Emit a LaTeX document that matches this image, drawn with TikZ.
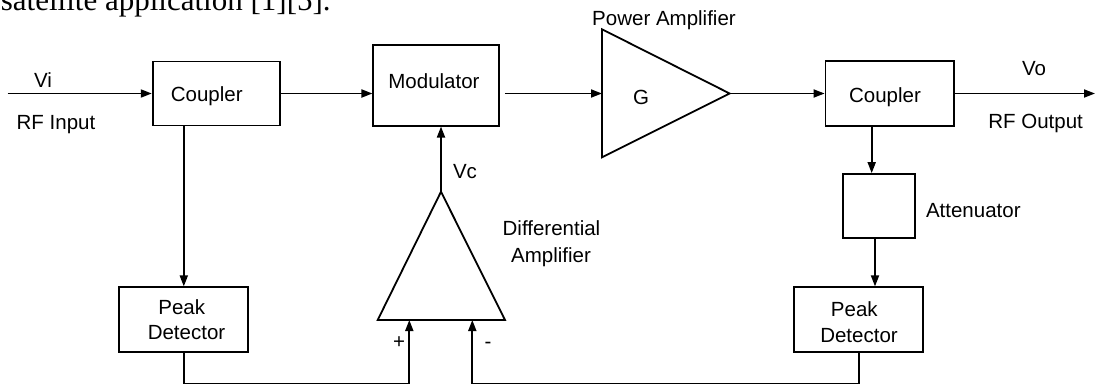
\documentclass[tikz,border=0pt]{standalone}
\usepackage{fontspec}
\setmainfont{Liberation Sans}
\newfontfamily\docserif{Liberation Serif}
\usetikzlibrary{arrows.meta}
\begin{document}
\begin{tikzpicture}[x=1pt,y=-1pt, line width=1.8pt,
  box/.style={draw, rectangle, inner sep=0pt},
  txt/.style={inner sep=0pt, text height=14.7pt, text depth=0pt, font=\fontsize{20.5}{24}\selectfont},
  arr/.style={-{Triangle[length=11pt,width=8pt]}}]
\useasboundingbox (0,0) rectangle (1096,386);
\begin{scope}
  \clip (0,0) rectangle (1096,386);
  \node[anchor=base west, inner sep=0pt, font=\docserif\fontsize{31}{36}\selectfont] (doc) at (0,10) {satellite application [1][5].};
\end{scope}
% input side
\coordinate (in) at (7.7,93.5);
\node[txt] (vi) at (43,80) {Vi};
\node[txt] (rfi) at (56,121.7) {RF Input};
\node[box, minimum width=127.6pt, minimum height=64pt] (c1) at (216.5,93.5) {};
\node[txt] (c1t) at (206.7,94) {Coupler};
\node[box, minimum width=125.7pt, minimum height=80.7pt] (mod) at (436.2,85.3) {};
\node[txt] (modt) at (434,81) {Modulator};
% power amplifier
\coordinate (paT) at (602,29.3);
\coordinate (paB) at (602,157.3);
\coordinate (paO) at (729.7,93.5);
\coordinate (paI) at (602,93.5);
\draw (paT) -- (paO) -- (paB) -- cycle;
\node[txt] (g) at (641,96.7) {G};
\node[txt] (pat) at (664,18.3) {Power Amplifier};
% output side
\node[box, minimum width=128.5pt, minimum height=65pt] (c2) at (889.75,93.5) {};
\node[txt] (c2t) at (885,95.5) {Coupler};
\coordinate (out) at (1095,93.5);
\node[txt] (vo) at (1034,68.3) {Vo};
\node[txt] (rfo) at (1035.6,121) {RF Output};
\node[box, minimum width=71.7pt, minimum height=64.3pt] (att) at (879.2,206.2) {};
\node[txt] (attt) at (973.3,210) {Attenuator};
\coordinate (ca) at (871.7,0);
\coordinate (ab) at (875,0);
% peak detectors
\node[box, minimum width=129pt, minimum height=64.4pt] (pd1) at (183.8,319.5) {};
\node[txt] (pd1a) at (181.7,307) {Peak};
\node[txt] (pd1b) at (186.5,332.5) {Detector};
\node[box, minimum width=129.3pt, minimum height=64.4pt] (pd2) at (858.7,319.5) {};
\node[txt] (pd2a) at (854.3,309) {Peak};
\node[txt] (pd2b) at (859,335.5) {Detector};
% differential amplifier
\coordinate (daA) at (441,191.7);
\coordinate (daL) at (377.7,320);
\coordinate (daR) at (505,320);
\draw (daA) -- (daR) -- (daL) -- cycle;
\coordinate (dp) at (409.3,320);
\coordinate (dm) at (472.3,320);
\node[txt] (vc) at (465,171) {Vc};
\node[txt] (plus) at (399,341) {+};
\node[txt] (minus) at (488,341) {-};
\node[txt] (dt1) at (551.5,228) {Differential};
\node[txt] (dt2) at (551,255) {Amplifier};
\coordinate (bot) at (0,383.5);
% connectors
\draw[arr] (in) -- (c1.west);
\draw[arr] (c1.east) -- (c1.east -| mod.west);
\draw[arr, shorten <=5pt] (c1.east -| mod.east) -- (paI);
\draw[arr] (paO) -- (c2.west);
\draw[arr] (c2.east) -- (out);
\draw[arr] (pd1.north |- c1.south) -- (pd1.north);
\draw[arr] (daA) -- (daA |- mod.south);
\draw[arr] (c2.south -| ca) -- (att.north -| ca);
\draw[arr] (att.south -| ab) -- (pd2.north -| ab);
\draw[arr] (pd1.south) -- (pd1.south |- bot) -| (dp);
\draw[arr] (pd2.south) -- (pd2.south |- bot) -| (dm);
\end{tikzpicture}
\end{document}
